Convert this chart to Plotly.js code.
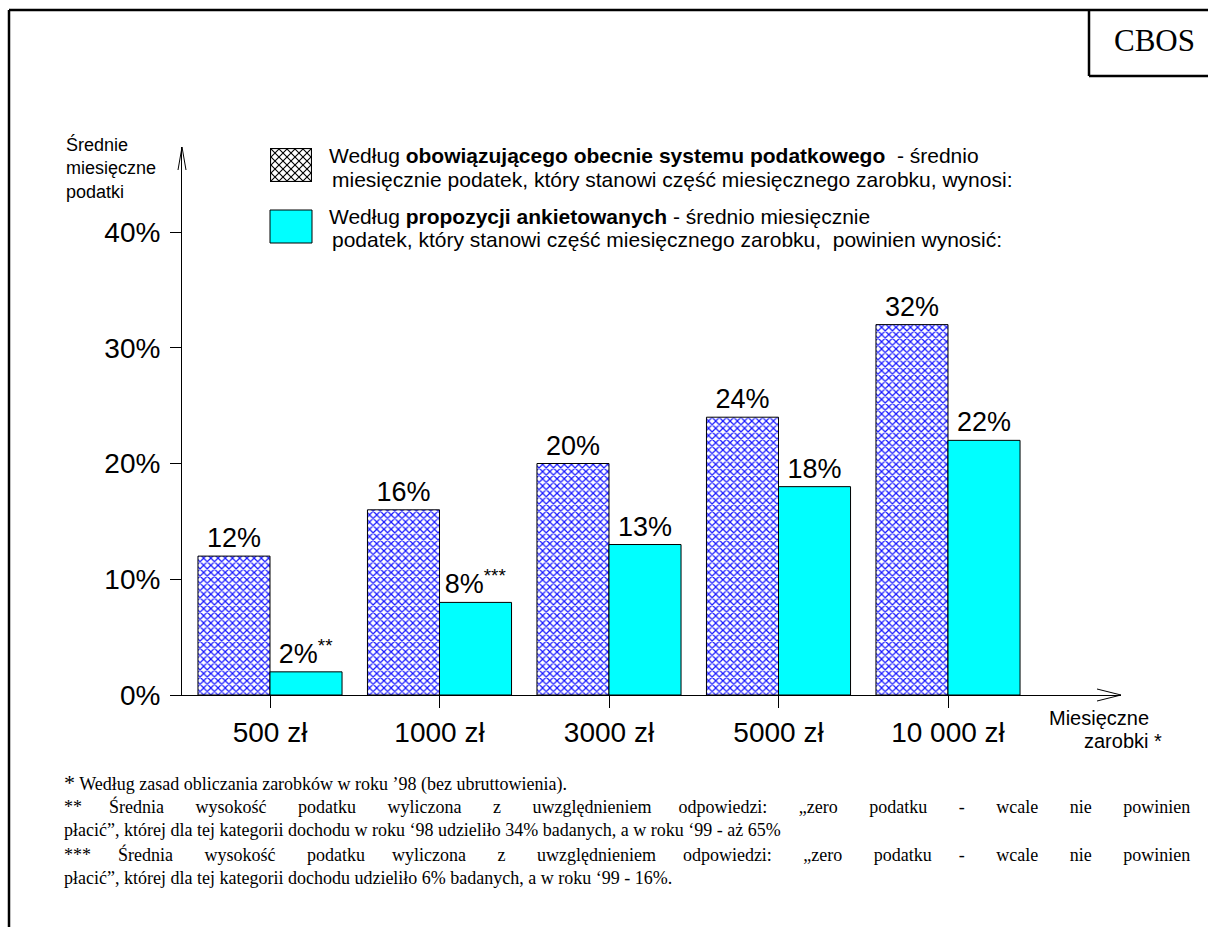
<!DOCTYPE html>
<html>
<head>
<meta charset="utf-8">
<script src="https://cdn.plot.ly/plotly-3.0.1.min.js"></script>
<style>
  html, body { margin: 0; padding: 0; background: #ffffff; }
  #chart { width: 1208px; height: 927px; }
</style>
</head>
<body>
<div id="chart"></div>
<script>
// ---------------- data ----------------
const categories = ['500 zł', '1000 zł', '3000 zł', '5000 zł', '10 000 zł'];
const currentTax = [12, 16, 20, 24, 32];      // obowiązujący system podatkowy
const proposedTax = [2, 8, 13, 18, 22];       // propozycje ankietowanych
const proposedMarks = ['**', '***', '', '', ''];
const yTickValues = [0, 10, 20, 30, 40];
const yTickLabels = ['0%', '10%', '20%', '30%', '40%'];

const legendCurrent = [
  'Według <b>obowiązującego obecnie systemu podatkowego</b>  - średnio',
  'miesięcznie podatek, który stanowi część miesięcznego zarobku, wynosi:'
];
const legendProposed = [
  'Według <b>propozycji ankietowanych</b> - średnio miesięcznie',
  'podatek, który stanowi część miesięcznego zarobku,  powinien wynosić:'
];
const yTitleLines = ['Średnie', 'miesięczne', 'podatki'];
const xTitleLines = ['Miesięczne', 'zarobki *'];
const footnoteStar = '*';
const footnotes = [
  ' Według zasad obliczania zarobków w roku ’98 (bez ubruttowienia).',
  '** Średnia wysokość podatku wyliczona z uwzględnieniem odpowiedzi: „zero podatku - wcale nie powinien',
  'płacić”, której dla tej kategorii dochodu w roku ‘98 udzieliło 34% badanych, a w roku ‘99 - aż 65%',
  '*** Średnia wysokość podatku wyliczona z uwzględnieniem odpowiedzi: „zero podatku - wcale nie powinien',
  'płacić”, której dla tej kategorii dochodu udzieliło 6% badanych, a w roku ‘99 - 16%.'
];
const footnoteJustified = [false, true, false, true, false];
const sourceLabel = 'CBOS';

// ---------------- layout geometry (pixels) ----------------
const W = 1208, H = 927;
const plotL = 182, plotR = 1121, plotT = 147, plotB = 695;
const PX = p => (p - plotL) / (plotR - plotL);
const PY = p => (plotB - p) / (plotB - plotT);

const sans = 'Liberation Sans, Arial, sans-serif';
const serif = 'Liberation Serif, Times New Roman, serif';
const footSize = 18;
const legendSize = 21;

// justify a line by widening its spaces (white-space is preserved in annotations)
const measureCtx = document.createElement('canvas').getContext('2d');
function justify(text, family, size, target) {
  measureCtx.font = size + 'px ' + family;
  const words = text.split(' ');
  const natural = measureCtx.measureText(text).width;
  const sp = measureCtx.measureText(' ').width;
  const gaps = words.length - 1;
  let extra = Math.max(0, Math.round((target - natural) / sp));
  let out = words[0];
  for (let i = 1; i < words.length; i++) {
    const n = Math.floor(extra * i / gaps) - Math.floor(extra * (i - 1) / gaps);
    out += ' '.repeat(1 + n) + words[i];
  }
  return out;
}

const traces = [
  {
    type: 'bar',
    x: categories,
    y: currentTax,
    text: currentTax.map(v => v + '%'),
    textposition: 'outside',
    constraintext: 'none',
    cliponaxis: false,
    textfont: { family: sans, size: 27, color: '#000' },
    marker: {
      color: '#ffffff',
      line: { color: '#000000', width: 1 },
      pattern: { shape: 'x', fgcolor: '#1515ff', bgcolor: '#ffffff', size: 5.1, solidity: 0.42 }
    },
    hoverinfo: 'skip',
    showlegend: false
  },
  {
    type: 'bar',
    x: categories,
    y: proposedTax,
    text: proposedTax.map((v, i) => v + '%' + (proposedMarks[i] ? '<sup>' + proposedMarks[i] + '</sup>' : '')),
    textposition: 'outside',
    constraintext: 'none',
    cliponaxis: false,
    textfont: { family: sans, size: 27, color: '#000' },
    marker: { color: '#00ffff', line: { color: '#000000', width: 1 } },
    hoverinfo: 'skip',
    showlegend: false
  }
];

const line = (x0, y0, x1, y1, w) => ({
  type: 'line', xref: 'paper', yref: 'paper',
  x0: PX(x0), y0: PY(y0), x1: PX(x1), y1: PY(y1),
  line: { color: '#000', width: w || 1 }
});

const shapes = [
  // outer frame (top, left)
  line(9, 10, 1212, 10, 2.5),
  line(9, 10, 9, 932, 2.5),
  // CBOS box
  line(1089, 10, 1089, 76, 2.5),
  line(1089, 76, 1212, 76, 2.5),
  // y axis arrowhead
  line(182, 147, 178, 170, 1),
  line(182, 147, 186, 170, 1),
  // x axis arrowhead
  line(1121, 695, 1097, 689, 1),
  line(1121, 695, 1097, 701, 1),
  // legend cyan swatch
  {
    type: 'rect', xref: 'paper', yref: 'paper',
    x0: PX(270), x1: PX(312), y0: PY(210), y1: PY(243),
    fillcolor: '#00ffff', line: { color: '#000', width: 1 }
  }
];

const hatchSvg = "<svg xmlns='http://www.w3.org/2000/svg' width='42' height='34' viewBox='0 0 42 34'>" +
  "<defs><pattern id='h' x='1' y='1' width='8' height='8' patternUnits='userSpaceOnUse'>" +
  "<path d='M-1,-1L9,9M9,-1L-1,9' stroke='black' stroke-width='1.1'/></pattern></defs>" +
  "<rect x='0.5' y='0.5' width='41' height='33' fill='white'/>" +
  "<rect x='0.5' y='0.5' width='41' height='33' fill='url(#h)' stroke='black' stroke-width='1.2'/></svg>";

const images = [{
  source: 'data:image/svg+xml;charset=utf-8,' + encodeURIComponent(hatchSvg),
  xref: 'paper', yref: 'paper',
  x: PX(270), y: PY(148),
  sizex: 42 / (plotR - plotL), sizey: 34 / (plotB - plotT),
  xanchor: 'left', yanchor: 'top', sizing: 'stretch', layer: 'above'
}];

const ann = (text, x, y, opts) => Object.assign({
  text: text, xref: 'paper', yref: 'paper', x: PX(x), y: PY(y),
  xanchor: 'left', yanchor: 'middle', showarrow: false,
  font: { family: sans, size: legendSize, color: '#000' }
}, opts || {});

const annotations = [
  ann(legendCurrent[0], 327, 155),
  ann(legendCurrent[1], 330, 179),
  ann(legendProposed[0], 327, 216),
  ann(legendProposed[1], 330, 239),
  ann(yTitleLines.join('<br>'), 64, 168, { font: { family: sans, size: 18, color: '#000' }, align: 'left' }),
  ann(xTitleLines[0], 1047, 718, { font: { family: sans, size: 20, color: '#000' } }),
  ann(xTitleLines[1], 1082, 741, { font: { family: sans, size: 20, color: '#000' } }),
  ann(sourceLabel, 1154, 40, { xanchor: 'center', font: { family: serif, size: 31, color: '#000' } })
];
const footY = [782, 806, 830, 854, 878];
const footX = 62, footRight = 1190;
footnotes.forEach((t, i) => {
  let txt = footnoteJustified[i] ? justify(t, '"Liberation Serif"', footSize, footRight - footX) : t;
  if (i === 0) txt = '<span style="font-size:22px">' + footnoteStar + '</span>' + txt;
  annotations.push(ann(txt, footX, footY[i], { font: { family: serif, size: footSize, color: '#000' } }));
});

const layout = {
  width: W, height: H, autosize: false,
  margin: { l: plotL, r: W - plotR, t: plotT, b: H - plotB, pad: 0 },
  paper_bgcolor: '#ffffff', plot_bgcolor: '#ffffff',
  barmode: 'group', bargap: 0.15, bargroupgap: 0,
  showlegend: false,
  xaxis: {
    type: 'category',
    range: [(plotL - 270) / 169.5, (plotR - 270) / 169.5],
    showline: true, linecolor: '#000', linewidth: 1,
    ticks: 'outside', ticklen: 12, tickcolor: '#000', tickwidth: 1,
    tickfont: { family: sans, size: 28, color: '#000' },
    ticklabelstandoff: 0,
    showgrid: false, zeroline: false, fixedrange: true
  },
  yaxis: {
    range: [0, (plotB - plotT) / ((plotB - 232) / 40)],
    tickvals: yTickValues, ticktext: yTickLabels,
    showline: true, linecolor: '#000', linewidth: 1,
    ticks: 'outside', ticklen: 11, tickcolor: '#000', tickwidth: 1,
    tickfont: { family: sans, size: 28, color: '#000' },
    ticklabelstandoff: 4,
    showgrid: false, zeroline: false, fixedrange: true
  },
  shapes: shapes,
  images: images,
  annotations: annotations
};

Plotly.newPlot('chart', traces, layout, { displayModeBar: false, staticPlot: true });
</script>
</body>
</html>
